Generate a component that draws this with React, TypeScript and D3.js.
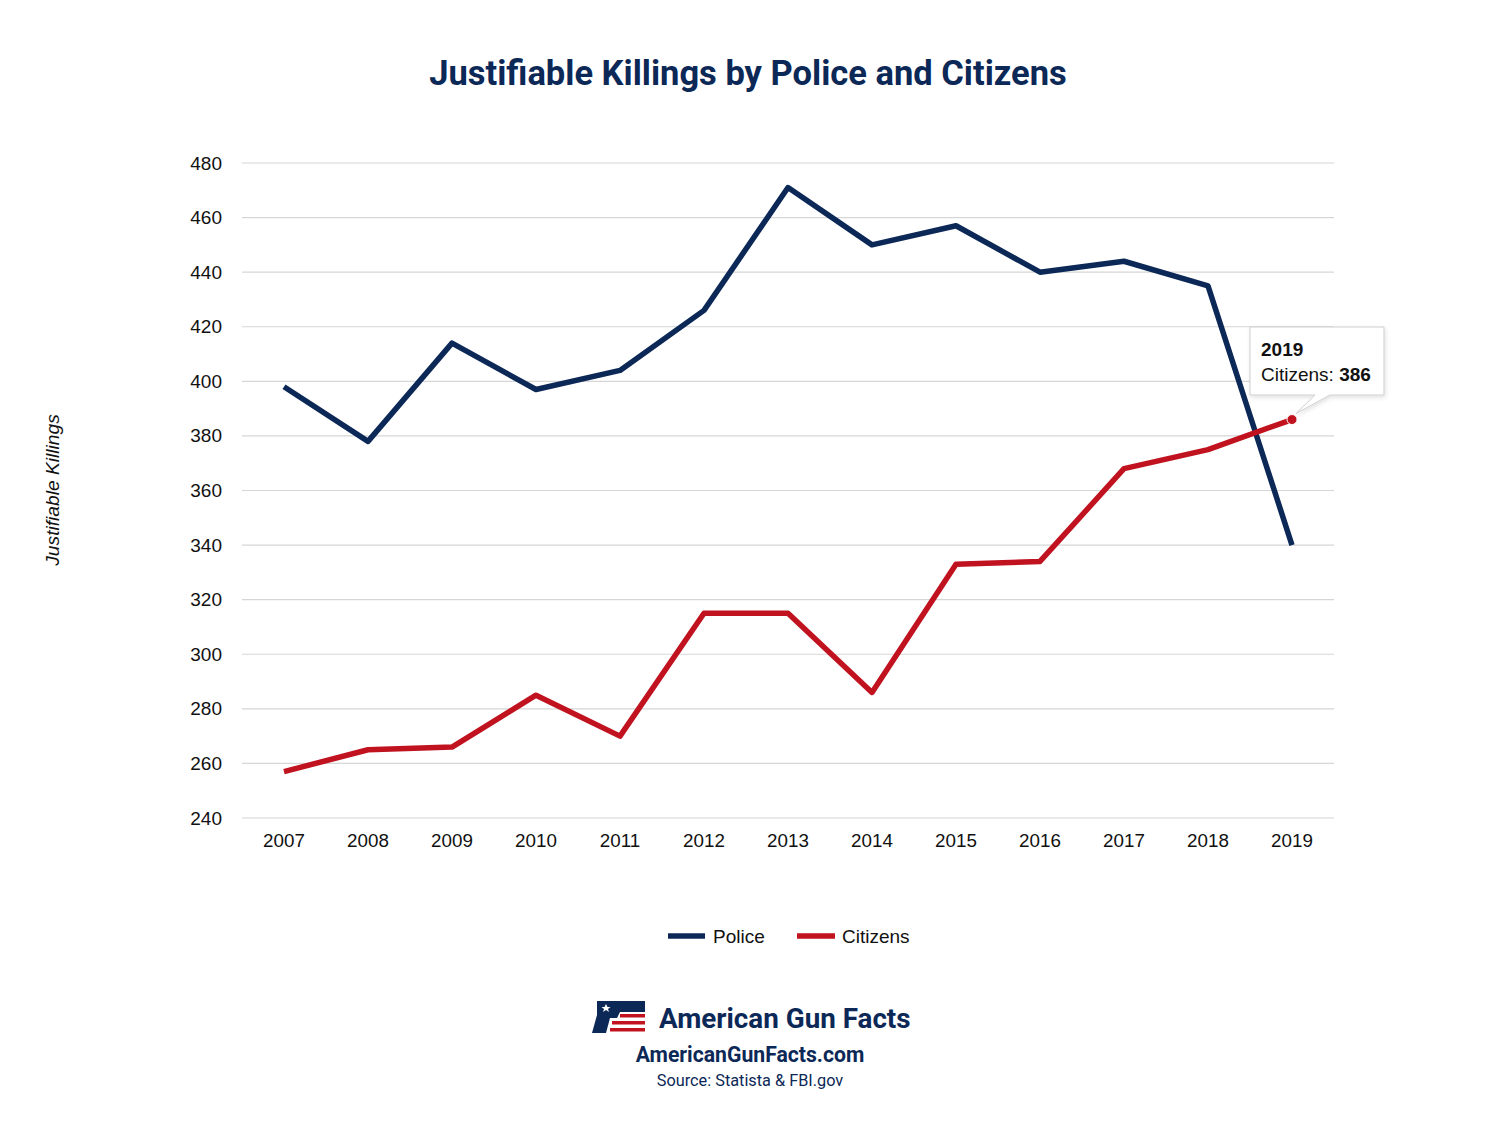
import React from "react";
import * as d3 from "d3";

const years = ["2007","2008","2009","2010","2011","2012","2013","2014","2015","2016","2017","2018","2019"];
const police = [398, 378, 414, 397, 404, 426, 471, 450, 457, 440, 444, 435, 340];
const citizens = [257, 265, 266, 285, 270, 315, 315, 286, 333, 334, 368, 375, 386];
const yTicks = [240, 260, 280, 300, 320, 340, 360, 380, 400, 420, 440, 460, 480];

const NAVY = "#0c2857";
const RED = "#c1121f";
const W = 1500, H = 1127;
const left = 242, right = 1334, top = 163, bottom = 818;

export default function App() {
  const x = d3.scalePoint<string>().domain(years).range([left, right]).padding(0.5);
  const y = d3.scaleLinear().domain([240, 480]).range([bottom, top]);
  const line = d3.line<number>().x((_, i) => x(years[i])!).y((d) => y(d));
  const font = "'Liberation Sans', Arial, Helvetica, sans-serif";
  const tf = "Roboto, 'Liberation Sans', sans-serif";
  const lastX = x(years[12])!;
  const lastY = y(citizens[12]);
  const bx = 1250, by = 327, bw = 134, bh = 68;
  return (
    <svg width={W} height={H} style={{ display: "block", position: "absolute", left: 0, top: 0 }}>
      <defs>
        <filter id="sh" x="-20%" y="-20%" width="140%" height="150%">
          <feDropShadow dx="1" dy="2" stdDeviation="2" floodColor="#000" floodOpacity="0.12" />
        </filter>
      </defs>
      <rect width={W} height={H} fill="#fff" />
      <text x={748} y={85} textAnchor="middle" fontFamily={tf} fontWeight={700} fontSize={34.5} fill={NAVY}>
        Justifiable Killings by Police and Citizens
      </text>
      {yTicks.map((t) => (
        <g key={t}>
          <line x1={left} x2={right} y1={y(t)} y2={y(t)} stroke="#d6d6d6" strokeWidth={1.2} />
          <text x={222} y={y(t) + 6.5} textAnchor="end" fontFamily={font} fontSize={19} fill="#111">{t}</text>
        </g>
      ))}
      {years.map((yr) => (
        <text key={yr} x={x(yr)!} y={847} textAnchor="middle" fontFamily={font} fontSize={18.8} fill="#111">{yr}</text>
      ))}
      <text transform="translate(59,490) rotate(-90)" textAnchor="middle" fontFamily={font} fontStyle="italic" fontSize={19.2} fill="#111">
        Justifiable Killings
      </text>
      <path d={line(police)!} fill="none" stroke={NAVY} strokeWidth={5.5} strokeLinejoin="round" />
      <path d={line(citizens)!} fill="none" stroke={RED} strokeWidth={5.5} strokeLinejoin="round" />
      <circle cx={lastX} cy={lastY} r={5} fill={RED} stroke="#fff" strokeWidth={1} />
      {/* tooltip */}
      <path
        d={`M${bx},${by} H${bx + bw} V${by + bh} H${bx + 80} L${lastX + 4},${lastY - 6} L${bx + 65},${by + bh} H${bx} Z`}
        fill="#fff" stroke="#cfcfcf" strokeWidth={1} filter="url(#sh)"
      />
      <text x={bx + 11} y={by + 29} fontFamily={font} fontWeight={700} fontSize={19} fill="#111">2019</text>
      <text x={bx + 11} y={by + 54} fontFamily={font} fontSize={19} fill="#111">
        Citizens: <tspan fontWeight={700}>386</tspan>
      </text>
      {/* legend */}
      <line x1={668} x2={705} y1={936} y2={936} stroke={NAVY} strokeWidth={5.5} />
      <text x={713} y={943} fontFamily={font} fontSize={19} fill="#111">Police</text>
      <line x1={797} x2={835} y1={936} y2={936} stroke={RED} strokeWidth={5.5} />
      <text x={842} y={943} fontFamily={font} fontSize={19} fill="#111">Citizens</text>
      {/* logo */}
      <g>
        <path d="M597,1001 H645 V1012 H620 L617,1018 H610 L606,1033 H592 L597,1015 Z" fill={NAVY} />
        <polygon points="606,1004 607.5,1007 610.5,1007 608,1009 609,1012 606,1010 603,1012 604,1009 601.5,1007 604.5,1007" fill="#fff" />
        <rect x={620} y={1014} width={25} height={3.5} fill={RED} />
        <rect x={612} y={1021} width={33} height={3.5} fill={RED} />
        <rect x={610} y={1028} width={35} height={3.5} fill={RED} />
      </g>
      <text x={659} y={1028} fontFamily={tf} fontWeight={700} fontSize={27.8} fill={NAVY}>American Gun Facts</text>
      <text x={750} y={1062} textAnchor="middle" fontFamily={tf} fontWeight={700} fontSize={21.2} fill={NAVY}>AmericanGunFacts.com</text>
      <text x={750} y={1086} textAnchor="middle" fontFamily={tf} fontSize={16.3} fill={NAVY}>Source: Statista &amp; FBI.gov</text>
    </svg>
  );
}
